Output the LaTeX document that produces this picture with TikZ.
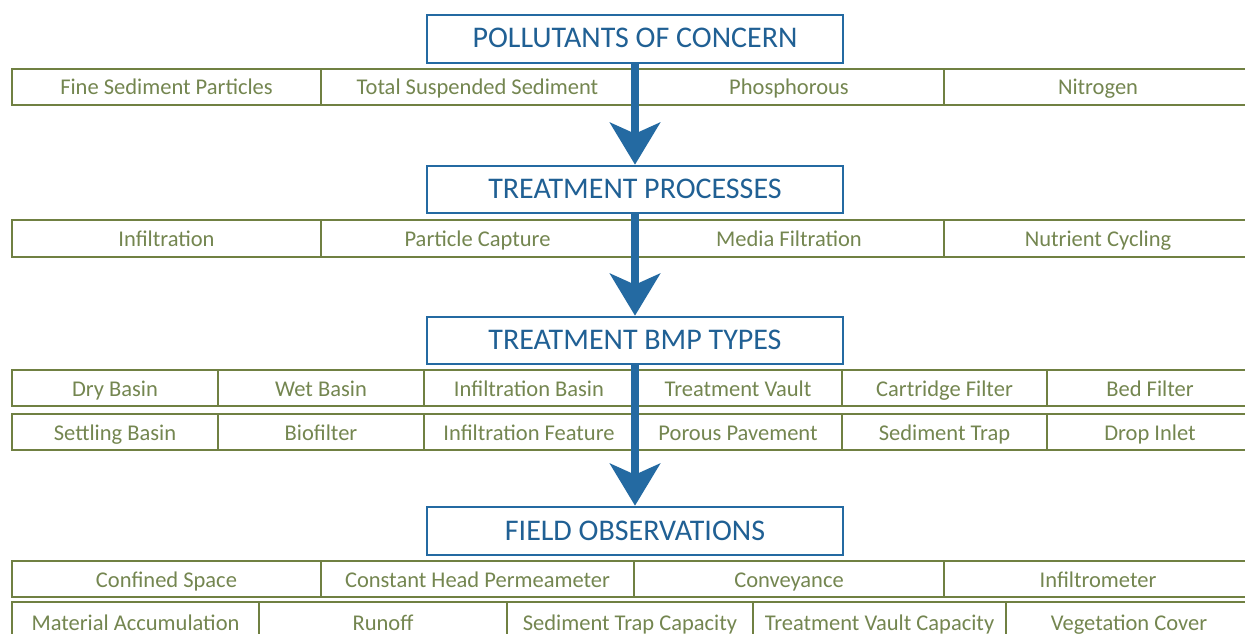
\documentclass[tikz,border=0pt]{standalone}
\usepackage{fontspec}
\setmainfont{Carlito}
\usetikzlibrary{arrows.meta}
\definecolor{flowblue}{RGB}{36,106,162}
\definecolor{headtext}{RGB}{32,96,148}
\definecolor{oliveline}{RGB}{112,128,66}
\definecolor{olivetext}{RGB}{116,134,80}
\tikzset{
  header/.style={draw=flowblue, line width=2.6pt, fill=white, text=headtext,
    font=\fontsize{30}{32}\selectfont, inner sep=0pt,
    text height=22pt, text depth=4pt},
  cell/.style={draw=oliveline, line width=2.6pt, text=olivetext,
    font=\fontsize{22.5}{24}\selectfont, inner sep=0pt,
    text height=20pt, text depth=4pt},
  flow/.style={draw=flowblue, line width=7.5pt,
    -{Stealth[length=42pt, width=50pt, inset=11pt]}},
}
% cell spanning x1..x2 (left to right) and y1..y2 (top to bottom)
\newcommand{\rowcell}[6]{%
  \node[cell, minimum width={#3-#2}, minimum height={#5-#4}]
    (#1) at ({(#2+#3)/2},{(#4+#5)/2}) {#6};}
\newcommand{\headbox}[4]{%
  \node[header, minimum width=416pt, minimum height={#3-#2}]
    (#1) at (635,{(#2+#3)/2}) {#4};}
\begin{document}
\begin{tikzpicture}[x=1pt, y=-1pt]
\useasboundingbox (0,0) rectangle (1245,634);
\clip (0,0) rectangle (1245,634);
\fill[white] (0,0) rectangle (1245,634);

% pollutants
\rowcell{p1}{12}{321}{69}{105}{Fine Sediment Particles}
\rowcell{p2}{321}{634}{69}{105}{Total Suspended Sediment}
\rowcell{p3}{634}{944}{69}{105}{Phosphorous}
\rowcell{p4}{944}{1252}{69}{105}{Nitrogen}

% treatment processes
\rowcell{t1}{12}{321}{220}{257}{Infiltration}
\rowcell{t2}{321}{634}{220}{257}{Particle Capture}
\rowcell{t3}{634}{944}{220}{257}{Media Filtration}
\rowcell{t4}{944}{1252}{220}{257}{Nutrient Cycling}

% BMP types
\rowcell{b1}{12}{218}{370}{406}{Dry Basin}
\rowcell{b2}{218}{424}{370}{406}{Wet Basin}
\rowcell{b3}{424}{634}{370}{406}{Infiltration Basin}
\rowcell{b4}{634}{842}{370}{406}{Treatment Vault}
\rowcell{b5}{842}{1047}{370}{406}{Cartridge Filter}
\rowcell{b6}{1047}{1253}{370}{406}{Bed Filter}
\rowcell{b7}{12}{218}{414}{450}{Settling Basin}
\rowcell{b8}{218}{424}{414}{450}{Biofilter}
\rowcell{b9}{424}{634}{414}{450}{Infiltration Feature}
\rowcell{b10}{634}{842}{414}{450}{Porous Pavement}
\rowcell{b11}{842}{1047}{414}{450}{Sediment Trap}
\rowcell{b12}{1047}{1253}{414}{450}{Drop Inlet}

% field observations
\rowcell{f1}{12}{321}{561}{597}{Confined Space}
\rowcell{f2}{321}{634}{561}{597}{Constant Head Permeameter}
\rowcell{f3}{634}{944}{561}{597}{Conveyance}
\rowcell{f4}{944}{1252}{561}{597}{Infiltrometer}
\rowcell{f5}{12}{259}{602}{642}{Material Accumulation}
\rowcell{f6}{259}{507}{602}{642}{Runoff}
\rowcell{f7}{507}{753}{602}{642}{Sediment Trap Capacity}
\rowcell{f8}{753}{1006}{602}{642}{Treatment Vault Capacity}
\rowcell{f9}{1006}{1252}{602}{642}{Vegetation Cover}

% stage headers
\headbox{h1}{15}{63}{POLLUTANTS OF CONCERN}
\headbox{h2}{166}{213}{TREATMENT PROCESSES}
\headbox{h3}{317}{364}{TREATMENT BMP TYPES}
\headbox{h4}{507}{555}{FIELD OBSERVATIONS}

% flow between stages
\draw[flow] (h1.south) -- (h2.north);
\draw[flow] (h2.south) -- (h3.north);
\draw[flow] (h3.south) -- (h4.north);
\end{tikzpicture}
\end{document}
